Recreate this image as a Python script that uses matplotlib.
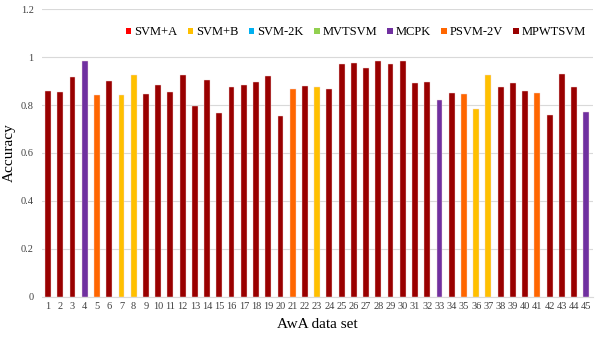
import numpy as np
import matplotlib
matplotlib.use('Agg')
import matplotlib.pyplot as plt
from matplotlib.patches import Patch

plt.rcParams['font.family'] = ['Liberation Serif', 'DejaVu Serif']

# 数据集编号与精度
datasets = [str(i) for i in range(1, 46)]
accuracy = [0.86, 0.855, 0.915, 0.985, 0.84, 0.90, 0.84, 0.925, 0.845, 0.885,
            0.855, 0.925, 0.795, 0.905, 0.765, 0.875, 0.885, 0.895, 0.92, 0.755,
            0.865, 0.88, 0.875, 0.865, 0.97, 0.975, 0.955, 0.985, 0.97, 0.985,
            0.89, 0.895, 0.82, 0.85, 0.845, 0.785, 0.925, 0.875, 0.89, 0.86,
            0.85, 0.76, 0.93, 0.875, 0.77]
# 每个数据集上最优的方法
best = ['MPWTSVM'] * 45
for i in [4, 33, 45]:
    best[i - 1] = 'MCPK'
for i in [5, 21, 35, 41]:
    best[i - 1] = 'PSVM-2V'
for i in [7, 8, 23, 36, 37]:
    best[i - 1] = 'SVM+B'

methods = ['SVM+A', 'SVM+B', 'SVM-2K', 'MVTSVM', 'MCPK', 'PSVM-2V', 'MPWTSVM']
colors = {'SVM+A': '#FF0000', 'SVM+B': '#FFC000', 'SVM-2K': '#00B0F0',
          'MVTSVM': '#92D050', 'MCPK': '#7030A0', 'PSVM-2V': '#FF6600',
          'MPWTSVM': '#990000'}

fig = plt.figure(figsize=(5.99, 3.37), dpi=100)
ax = fig.add_axes([0.070, 0.119, 0.920, 0.854])

x = np.arange(1, 46)
ax.bar(x, accuracy, width=0.48, color=[colors[b] for b in best],
       edgecolor='#F4D8D8', linewidth=0.3, zorder=3)

ax.set_xlim(0.5, 45.55)
ax.set_ylim(0, 1.2)
ax.set_yticks([0, 0.2, 0.4, 0.6, 0.8, 1.0, 1.2])
ax.set_yticklabels(['0', '0.2', '0.4', '0.6', '0.8', '1', '1.2'])
ax.set_xticks(x)
ax.set_xticklabels(datasets)
ax.tick_params(axis='both', length=0, labelsize=7.5, colors='#404040', pad=4)
ax.tick_params(axis='y', pad=6)
ax.grid(axis='y', color='#D9D9D9', linewidth=0.8, zorder=0)
for s in ['top', 'right', 'left']:
    ax.spines[s].set_visible(False)
ax.spines['bottom'].set_color('#D9D9D9')
ax.set_xlabel('AwA data set', fontsize=11, labelpad=5)
ax.set_ylabel('Accuracy', fontsize=11)
ax.yaxis.set_label_coords(-0.047, 0.5)

handles = [Patch(facecolor=colors[m], label=m) for m in methods]
ax.legend(handles=handles, ncol=7, loc='upper right', bbox_to_anchor=(0.997, 0.957),
          frameon=False, fontsize=9, handlelength=0.45, handleheight=0.45,
          handletextpad=0.25, columnspacing=0.8, borderaxespad=0)

fig.savefig('out.png', dpi=100)
